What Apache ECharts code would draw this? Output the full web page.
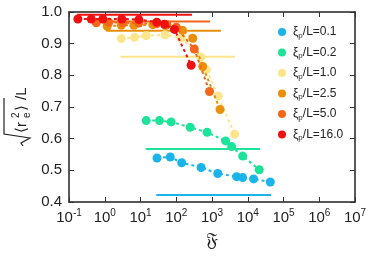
<!DOCTYPE html>
<html><head><meta charset="utf-8">
<script src="https://cdn.jsdelivr.net/npm/echarts@6/dist/echarts.min.js"></script>
<style>html,body{margin:0;padding:0;background:#fff}#c{width:374px;height:256px}</style>
</head><body><div id="c"></div>
<script>
// ---- data ----
var seriesNames = ['0.1', '0.2', '1.0', '2.5', '5.0', '16.0'];
var colors = ['#1ab4e8', '#1de39a', '#fde58c', '#e8900c', '#f5661a', '#f01010'];
var xi01 = [[29,0.539],[68,0.542],[142,0.524],[495,0.509],[1445,0.490],[4900,0.480],[7200,0.477],[14600,0.473],[42700,0.463]];
var xi02 = [[14.4,0.657],[34,0.657],[72,0.653],[245,0.636],[730,0.620],[2400,0.593],[3540,0.575],[7200,0.545],[21000,0.502]];
var xi10 = [[2.9,0.916],[6.8,0.920],[14.4,0.925],[49,0.928],[140,0.918],[490,0.858],[700,0.818],[1500,0.735],[4300,0.614]];
var xi25 = [[1.17,0.955],[2.9,0.958],[6.5,0.958],[22,0.960],[50,0.957],[150,0.942],[290,0.917],[550,0.828],[1680,0.692]];
var xi50 = [[0.58,0.966],[1.3,0.968],[3.2,0.966],[9,0.965],[28,0.963],[55,0.960],[100,0.952],[320,0.883],[850,0.749]];
var xi160 = [[0.177,0.978],[0.42,0.978],[0.885,0.978],[3.0,0.978],[9.0,0.976],[28.5,0.968],[46.8,0.961],[89,0.945],[261,0.832]];
var seriesData = [xi01, xi02, xi10, xi25, xi50, xi160];
// horizontal reference lines: level, start, end
var refLevel = [0.422, 0.567, 0.859, 0.941, 0.970, 0.991];
var refStart = [27.6, 14, 2.75, 1.1, 0.58, 0.17];
var refEnd = [44700, 21900, 4400, 1780, 880, 275];
var yTicks = [0.4, 0.5, 0.6, 0.7, 0.8, 0.9, 1.0];

var font = 'Liberation Sans, Arial, sans-serif';
var chart = echarts.init(document.getElementById('c'));
var series = [];
for (var i = 0; i < seriesNames.length; i++) {
  series.push({
    name: 'ref' + i, type: 'line', silent: true, symbol: 'none', z: 2 + i,
    data: [[refStart[i], refLevel[i]], [refEnd[i], refLevel[i]]],
    lineStyle: { color: colors[i], width: 2, type: 'solid' }
  });
}
for (var i = 0; i < seriesNames.length; i++) {
  series.push({
    name: seriesNames[i], type: 'line', z: 10 + i,
    data: seriesData[i], symbol: 'circle', symbolSize: 9,
    itemStyle: { color: colors[i] },
    lineStyle: { color: colors[i], width: 2, type: [3, 3] }
  });
}
var axisLine = { show: true, lineStyle: { color: '#222', width: 1.5 } };
chart.setOption({
  animation: false,
  grid: { left: 69, right: 19, top: 12, bottom: 49 },
  legend: {
    data: seriesNames, orient: 'vertical', left: 273, top: 21,
    itemWidth: 12, itemHeight: 8, itemGap: 7, icon: 'circle', symbolKeepAspect: false,
    formatter: function (n) { return '{a|ξ}{s|p}{a|/L=' + n + '}'; },
    textStyle: { rich: {
      a: { fontFamily: font, fontSize: 12, color: '#222' },
      s: { fontFamily: font, fontSize: 8, color: '#222', padding: [7, 0, 0, 0] }
    } }
  },
  xAxis: [{
    type: 'log', logBase: 10, min: 0.1, max: 1e7, interval: 1,
    name: '𝔉', nameLocation: 'middle', nameGap: 30,
    nameTextStyle: { fontSize: 19, color: '#222', fontFamily: 'DejaVu Serif, serif' },
    axisLine: axisLine, splitLine: { show: false },
    axisTick: { inside: true, length: 5, lineStyle: { color: '#333' } },
    minorTick: { show: false },
    axisLabel: {
      margin: 6, color: '#222',
      formatter: function (v) { var e = Math.round(Math.log10(v)); return '{b|10}{p|' + e + '}'; },
      rich: {
        b: { fontFamily: font, fontSize: 15, color: '#222' },
        p: { fontFamily: font, fontSize: 10, color: '#222', padding: [0, 0, 9, 0] }
      }
    }
  }, {
    type: 'log', logBase: 10, min: 0.1, max: 1e7, interval: 1, position: 'top',
    axisLine: axisLine, splitLine: { show: false }, axisLabel: { show: false },
    axisTick: { inside: true, length: 5, lineStyle: { color: '#333' } }
  }],
  yAxis: [{
    type: 'value', min: 0.4, max: 1.0, interval: 0.1,
    axisLine: axisLine, splitLine: { show: false },
    axisTick: { inside: true, length: 5, lineStyle: { color: '#333' } },
    axisLabel: { margin: 7, color: '#222', fontFamily: font, fontSize: 15,
      formatter: function (v) { return v.toFixed(1); } }
  }, {
    type: 'value', min: 0.4, max: 1.0, interval: 0.1, position: 'right',
    axisLine: axisLine, splitLine: { show: false }, axisLabel: { show: false },
    axisTick: { inside: true, length: 5, lineStyle: { color: '#333' } }
  }],
  graphic: [{
    type: 'group', x: 22, y: 110, rotation: Math.PI / 2,
    children: [
      { type: 'polyline', shape: { points: [[-36, 1], [-33, -1], [-28, 8], [-24, -18], [12, -18]] },
        style: { stroke: '#222', lineWidth: 1.2, fill: null } },
      { type: 'text', x: -23, y: 0, style: { text: '⟨r', font: '15px ' + font, fill: '#222', textVerticalAlign: 'middle' } },
      { type: 'text', x: -8, y: -6, style: { text: '2', font: '10px ' + font, fill: '#222', textVerticalAlign: 'middle' } },
      { type: 'text', x: -8, y: 5, style: { text: 'e', font: '10px ' + font, fill: '#222', textVerticalAlign: 'middle' } },
      { type: 'text', x: -1, y: 0, style: { text: '⟩', font: '15px ' + font, fill: '#222', textVerticalAlign: 'middle' } },
      { type: 'text', x: 10, y: 0, style: { text: '/L', font: '15px ' + font, fill: '#222', textVerticalAlign: 'middle' } }
    ]
  }],
  series: series
});
</script></body></html>
